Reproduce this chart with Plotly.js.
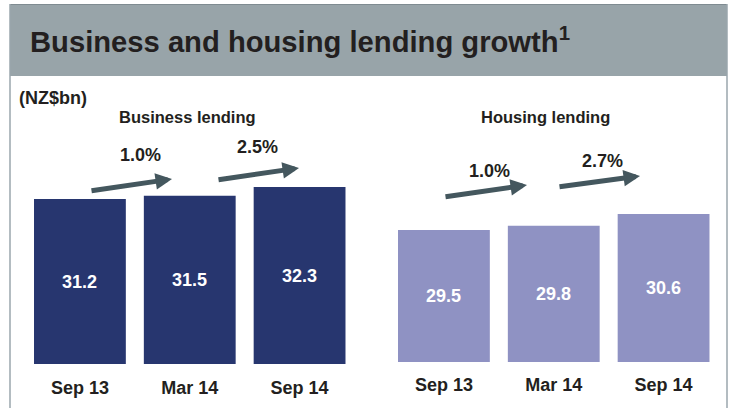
<!DOCTYPE html>
<html>
<head>
<meta charset="utf-8">
<script src="https://cdn.plot.ly/plotly-3.0.1.min.js"></script>
<style>html,body{margin:0;padding:0;background:#fff;}#chart{width:729px;height:408px;}</style>
</head>
<body>
<div id="chart"></div>
<script>
// ---- data ----
const periods = ['Sep 13', 'Mar 14', 'Sep 14'];
const businessLending = [31.2, 31.5, 32.3];
const housingLending = [29.5, 29.8, 30.6];
const businessGrowth = ['1.0%', '2.5%'];
const housingGrowth = ['1.0%', '2.7%'];
const chartTitle = 'Business and housing lending growth';
const unitLabel = '(NZ$bn)';
const panelTitles = ['Business lending', 'Housing lending'];

// ---- layout helpers (pixel -> paper) ----
const W = 729, H = 408;
const px = x => x / W;
const py = y => 1 - y / H;
const FONT = 'Liberation Sans, Arial, sans-serif';
const TXT = '#231f20';

// visible value windows of the two (truncated) value axes
const yRange1 = [16.06, 38.45];
const yRange2 = [20.4, 37.09];

// arrow placement (pixels: tail x,y -> tip x,y)
const arrowPix = [
  [90, 191, 172, 179], [217, 180, 299, 168],
  [444, 197, 527, 185], [558, 187, 640, 176]
];
const growthPix = [[140, 155], [257, 147], [489, 171], [602, 161]];

const traces = [
  {
    type: 'bar', x: periods, y: businessLending, xaxis: 'x', yaxis: 'y',
    marker: {color: '#27366f'}, hoverinfo: 'skip'
  },
  {
    type: 'bar', x: periods, y: housingLending, xaxis: 'x2', yaxis: 'y2',
    marker: {color: '#8f92c3'}, hoverinfo: 'skip'
  }
];

const annotations = [];
// value labels centred in the visible part of each bar
businessLending.forEach((v, i) => {
  annotations.push({xref: 'x', yref: 'y', x: periods[i], y: (yRange1[0] + v) / 2,
    text: '<b>' + v.toFixed(1) + '</b>', showarrow: false,
    font: {family: FONT, size: 18, color: '#ffffff'}});
});
housingLending.forEach((v, i) => {
  annotations.push({xref: 'x2', yref: 'y2', x: periods[i], y: (yRange2[0] + v) / 2,
    text: '<b>' + v.toFixed(1) + '</b>', showarrow: false,
    font: {family: FONT, size: 18, color: '#ffffff'}});
});

annotations.push({xref: 'paper', yref: 'paper', x: px(17), y: py(98), xanchor: 'left', yanchor: 'middle',
  text: '<b>' + unitLabel + '</b>', showarrow: false, font: {family: FONT, size: 18, color: TXT}});
annotations.push({xref: 'paper', yref: 'paper', x: px(188), y: py(117), xanchor: 'center', yanchor: 'middle',
  text: '<b>' + panelTitles[0] + '</b>', showarrow: false, font: {family: FONT, size: 16.5, color: TXT}});
annotations.push({xref: 'paper', yref: 'paper', x: px(545), y: py(117), xanchor: 'center', yanchor: 'middle',
  text: '<b>' + panelTitles[1] + '</b>', showarrow: false, font: {family: FONT, size: 16.5, color: TXT}});

const growth = businessGrowth.concat(housingGrowth);
growth.forEach((g, i) => {
  annotations.push({xref: 'paper', yref: 'paper', x: px(growthPix[i][0]), y: py(growthPix[i][1]),
    xanchor: 'center', yanchor: 'middle', text: '<b>' + g + '</b>', showarrow: false,
    font: {family: FONT, size: 18, color: TXT}});
});
arrowPix.forEach(a => {
  annotations.push({xref: 'paper', yref: 'paper', axref: 'paper', ayref: 'paper',
    x: px(a[2]), y: py(a[3]), ax: px(a[0]), ay: py(a[1]), text: '',
    showarrow: true, arrowhead: 2, arrowsize: 0.66, arrowwidth: 5, arrowcolor: '#44575e',
    standoff: 0, startstandoff: 0});
});

const layout = {
  width: W, height: H,
  margin: {l: 0, r: 0, t: 0, b: 0},
  paper_bgcolor: '#ffffff', plot_bgcolor: 'rgba(0,0,0,0)',
  showlegend: false, bargap: 0.164,
  font: {family: FONT, color: TXT},
  title: {text: '<b>' + chartTitle + '<sup style="font-size:17px">1</sup></b>', x: px(30), xanchor: 'left', xref: 'paper',
    y: py(42), yanchor: 'middle', yref: 'paper', font: {family: FONT, size: 29.2, color: TXT}},
  xaxis: {domain: [px(25), px(354.5)], anchor: 'y', showgrid: false, zeroline: false, showline: false,
    ticks: '', tickfont: {family: FONT, size: 18, color: TXT}, ticklabelstandoff: 11, fixedrange: true,
    tickprefix: '<b>', ticksuffix: '</b>'},
  yaxis: {domain: [py(364), py(120)], range: yRange1, visible: false, fixedrange: true},
  xaxis2: {domain: [px(389), px(718.5)], anchor: 'y2', showgrid: false, zeroline: false, showline: false,
    ticks: '', tickfont: {family: FONT, size: 18, color: TXT}, ticklabelstandoff: 10, fixedrange: true,
    tickprefix: '<b>', ticksuffix: '</b>'},
  yaxis2: {domain: [py(362), py(120)], range: yRange2, visible: false, fixedrange: true},
  shapes: [
    {type: 'rect', xref: 'paper', yref: 'paper', x0: px(10), x1: px(727), y0: py(76), y1: py(4),
      fillcolor: '#98a4a9', line: {width: 0}, layer: 'below'},
    {type: 'line', xref: 'paper', yref: 'paper', x0: px(10), x1: px(727), y0: py(4.5), y1: py(4.5),
      line: {color: '#7f8b91', width: 1}},
    {type: 'line', xref: 'paper', yref: 'paper', x0: px(10), x1: px(10), y0: py(4), y1: 0,
      line: {color: '#9aa6ad', width: 1.5}},
    {type: 'line', xref: 'paper', yref: 'paper', x0: px(727), x1: px(727), y0: py(4), y1: 0,
      line: {color: '#9aa6ad', width: 1.5}}
  ],
  annotations: annotations
};

Plotly.newPlot('chart', traces, layout, {displayModeBar: false, staticPlot: true});
</script>
</body>
</html>
